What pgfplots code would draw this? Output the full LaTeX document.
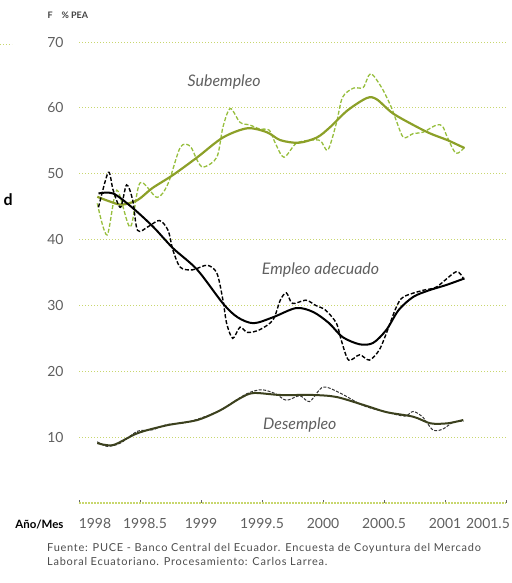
\documentclass[border=0pt]{standalone}
\usepackage{fontspec}
\setmainfont{Lato}
\newfontfamily\srcfont[LetterSpace=7]{Lato}
\usepackage{pgfplots}
\pgfplotsset{compat=1.18}
\definecolor{subdash}{RGB}{150,190,60}
\definecolor{subline}{RGB}{140,160,40}
\definecolor{gridc}{RGB}{200,215,110}
\definecolor{lbl}{RGB}{95,95,95}
\definecolor{desline}{RGB}{60,65,30}

\begin{document}
\begin{tikzpicture}
% page = 512 x 583 px, axis origin at px (79,503)
\path[use as bounding box] (-79bp,-80bp) rectangle (433bp,503bp);
\begin{axis}[
  at={(0,0)}, anchor=south west,
  scale only axis, width=427bp, height=461bp,
  xmin=1998, xmax=2001.5, ymin=0, ymax=70,
  axis x line*=bottom, axis y line*=left,
  x axis line style={draw=gridc, line width=1.2bp, dash pattern=on 1.5bp off 1.5bp},
  y axis line style={draw=none},
  xtick={1998,1998.5,1999,1999.5,2000,2000.5,2001,2001.5},
  xticklabels={\makebox[0pt]{\kern32bp 1998},\makebox[0pt]{\kern10bp 1998.5},1999,1999.5,2000,2000.5,2001,\makebox[0pt]{\kern-36bp 2001.5}},
  ytick={10,20,30,40,50,60,70},
  ymajorgrids, grid style={gridc, line width=0.9bp, dash pattern=on 1bp off 2bp},
  ytick style={draw=none},
  xtick style={draw=black!60, line width=0.8bp},
  tick align=inside, major tick length=3bp,
  tick label style={font=\fontsize{14}{14}\selectfont, text=lbl},
  /pgf/number format/assume math mode=true,
  yticklabel style={xshift=-12bp},
  xticklabel style={yshift=-12bp},
  clip=false,
]
% Subempleo: raw series (dashed) and trend (solid)
\addplot[subdash, line width=1.3bp, dash pattern=on 4bp off 2bp, smooth, tension=0.5] coordinates {
(1998.15,45.5) (1998.23,40.7) (1998.31,47.5) (1998.42,41.9) (1998.50,48.6)
(1998.64,46.4) (1998.73,48.5) (1998.83,54.0) (1998.91,54.2) (1998.97,52.0)
(1999.02,51.0) (1999.13,52.5) (1999.18,57.1) (1999.24,59.9) (1999.32,57.8)
(1999.40,57.4) (1999.48,56.8) (1999.56,56.6) (1999.61,54.6) (1999.68,52.5)
(1999.78,54.6) (1999.90,55.1) (1999.98,55.0) (2000.04,53.6) (2000.11,57.7)
(2000.16,61.6) (2000.25,63.0) (2000.33,63.1) (2000.39,65.2) (2000.48,63.1)
(2000.56,60.1) (2000.60,58.1) (2000.66,55.5) (2000.74,56.1) (2000.82,56.3)
(2000.93,57.4) (2000.98,57.2) (2001.02,55.5) (2001.09,53.1) (2001.16,54.0)};
\addplot[subline, line width=2.2bp, smooth] coordinates {
(1998.15,46.5) (1998.25,45.8) (1998.35,45.3) (1998.48,46.0) (1998.60,47.8)
(1998.77,49.8) (1998.97,52.5) (1999.18,55.5) (1999.38,56.9) (1999.54,56.3)
(1999.65,55.1) (1999.80,54.7) (1999.95,55.5) (2000.06,57.1) (2000.20,59.6)
(2000.36,61.5) (2000.44,61.3) (2000.57,59.2) (2000.74,57.4) (2000.88,56.1)
(2001.02,55.1) (2001.16,53.9)};
% Empleo adecuado
\addplot[black, line width=1.4bp, dash pattern=on 4bp off 2bp, smooth, tension=0.5] coordinates {
(1998.16,44.9) (1998.24,50.2) (1998.28,47.5) (1998.34,44.9) (1998.39,48.3)
(1998.44,46.0) (1998.48,41.4) (1998.57,42.0) (1998.66,42.9) (1998.73,41.4)
(1998.77,38.4) (1998.83,35.8) (1998.93,35.4) (1999.05,36.1) (1999.13,34.9)
(1999.18,30.8) (1999.21,27.3) (1999.26,25.0) (1999.32,26.7) (1999.38,25.9)
(1999.48,26.3) (1999.59,27.8) (1999.65,30.8) (1999.70,31.9) (1999.75,30.3)
(1999.86,30.8) (1999.94,30.0) (2000.02,29.3) (2000.11,27.3) (2000.15,24.7)
(2000.21,21.7) (2000.30,22.5) (2000.38,21.7) (2000.46,23.2) (2000.52,25.8)
(2000.60,29.7) (2000.66,31.3) (2000.82,32.3) (2000.93,32.8) (2001.09,35.1)
(2001.15,34.1)};
\addplot[black, line width=2bp, smooth] coordinates {
(1998.16,47.0) (1998.28,47.0) (1998.44,44.8) (1998.61,41.9) (1998.77,38.7)
(1998.97,35.4) (1999.18,30.3) (1999.30,28.2) (1999.43,27.3) (1999.59,28.2)
(1999.78,29.6) (1999.92,29.0) (2000.05,27.3) (2000.16,25.2) (2000.30,24.1)
(2000.41,24.3) (2000.52,26.3) (2000.62,29.3) (2000.74,31.3) (2000.87,32.3)
(2001.01,33.1) (2001.16,34.1)};
% Desempleo
\addplot[black!80, line width=1bp, dash pattern=on 3bp off 1.5bp, smooth, tension=0.5] coordinates {
(1998.15,9.3) (1998.23,8.6) (1998.34,9.1) (1998.48,10.9) (1998.60,11.1)
(1998.72,11.9) (1998.87,12.2) (1999.00,12.9) (1999.16,14.1) (1999.32,16.0)
(1999.40,16.8) (1999.50,17.2) (1999.61,16.6) (1999.70,15.6) (1999.81,16.3)
(1999.89,15.4) (2000.00,17.6) (2000.14,16.7) (2000.33,14.8) (2000.52,13.8)
(2000.67,13.2) (2000.74,13.9) (2000.82,13.0) (2000.90,11.1) (2000.98,11.2)
(2001.07,12.3) (2001.15,12.4)};
\addplot[desline, line width=2bp, smooth] coordinates {
(1998.15,9.1) (1998.28,8.8) (1998.48,10.6) (1998.72,11.8) (1998.97,12.6)
(1999.16,14.1) (1999.32,15.9) (1999.43,16.7) (1999.65,16.4) (1999.92,16.4)
(2000.11,16.1) (2000.33,14.9) (2000.52,13.8) (2000.74,13.1) (2000.88,12.1)
(2001.02,12.1) (2001.15,12.6)};
% series names
\node[font=\itshape\fontsize{16}{16}\selectfont, text=lbl] at (axis cs:1999.19,63.9) {Subempleo};
\node[font=\itshape\fontsize{16}{16}\selectfont, text=lbl] at (axis cs:1999.98,35.4) {Empleo adecuado};
\node[font=\itshape\fontsize{16}{16}\selectfont, text=lbl] at (axis cs:1999.81,11.8) {Desempleo};
\end{axis}
% surrounding text
\node[anchor=west, font=\bfseries\fontsize{9}{9}\selectfont, text=black!75] at (-35bp,488bp) {F\quad\% PEA};
\node[anchor=east, font=\bfseries\fontsize{11.5}{11.5}\selectfont] at (-12bp,-22bp) {Año/Mes};
\node[anchor=west, font=\bfseries\fontsize{16}{16}\selectfont] at (-79bp,303bp) {d};
\draw[gridc, line width=0.9bp, dash pattern=on 1bp off 2bp] (-79bp,459bp) -- (-67bp,459bp);
\node[anchor=north west, align=left, inner sep=0pt, font=\srcfont\fontsize{11}{14}\selectfont, text=black!70] at (-32bp,-40bp)
  {Fuente: PUCE - Banco Central del Ecuador. Encuesta de Coyuntura del Mercado\\
   Laboral Ecuatoriano. Procesamiento: Carlos Larrea.};
\end{tikzpicture}
\end{document}
